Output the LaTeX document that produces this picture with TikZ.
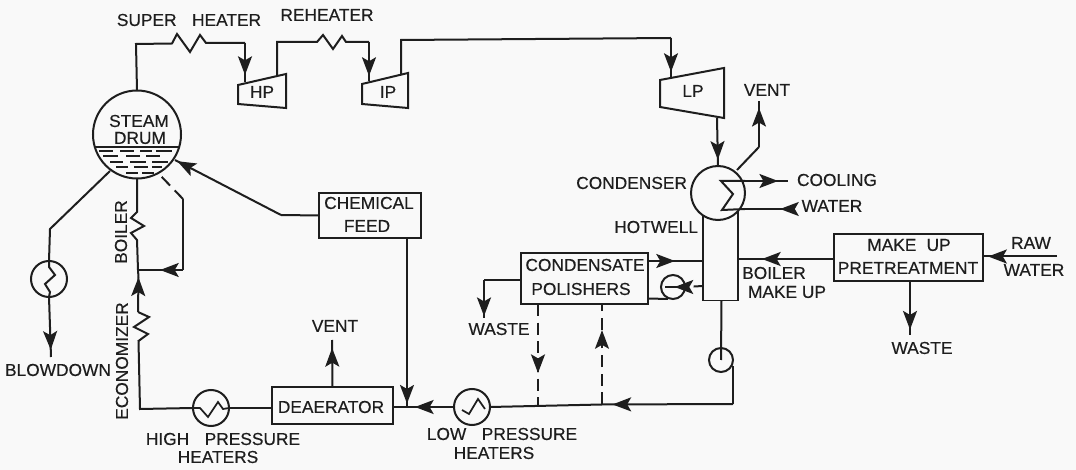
\documentclass[tikz,border=0pt]{standalone}
\usepackage{fontspec}
\setmainfont{Liberation Sans}[RawFeature={embolden=0.35}]
\usetikzlibrary{arrows.meta,decorations.markings}
\definecolor{ink}{HTML}{1E1E1E}
\definecolor{paper}{HTML}{F9F9F9}
\tikzset{
  x=0.75pt,y=-0.75pt,
  pipe/.style={draw=ink,line width=1.5pt,line join=miter},
  dash pipe/.style={draw=ink,line width=1.5pt,dash pattern=on 9pt off 5pt},
  head/.style={postaction={decorate,decoration={markings,mark=at position #1 with {\arrow{Stealth[length=14pt,width=10.5pt,inset=3pt,ink]}}}}},
  inset0/.style={inner sep=0pt,outer sep=0pt},
  tag/.style={inset0,font=\fontsize{13}{15}\selectfont,text=ink,align=center},
  box/.style={draw=ink,line width=1.7pt,inset0,fill=paper,minimum width=#1},
  vessel/.style={draw=ink,line width=1.5pt,circle,inset0,minimum size=#1},
}
\begin{document}
\begin{tikzpicture}
\useasboundingbox (0,0) rectangle (1076,470);
\fill[paper] (0,0) rectangle (1076,470);

% ---- boxes
\node[box=102pt*0.75,minimum height=45pt*0.75] (feed) at (370,215.5) {};
\node[box=121pt*0.75,minimum height=37pt*0.75] (dea) at (332.5,405.5) {};
\node[box=127pt*0.75,minimum height=51pt*0.75] (pol) at (584.5,278.5) {};
\node[box=149pt*0.75,minimum height=47pt*0.75] (mup) at (908.5,257.5) {};
\node[draw=ink,line width=1.2pt,inset0,minimum width=35pt*0.75,minimum height=89pt*0.75] (well) at (720.5,256) {};

% ---- vessels
\node[vessel=88pt*0.75] (drum) at (137,134.5) {};
\node[vessel=54pt*0.75,fill=paper] (cond) at (718,193) {};
\node[vessel=36pt*0.75] (blowhx) at (49,279) {};
\node[vessel=36pt*0.75] (hph) at (211,408) {};
\node[vessel=36pt*0.75] (lph) at (472,407) {};
\node[vessel=24pt*0.75] (pumpa) at (673,287) {};
\node[vessel=24pt*0.75] (pumpb) at (721,360) {};

% ---- turbines
\draw[pipe] (238,85) -- (286,74) -- (286,108) -- (238,104) -- cycle;
\draw[pipe] (362,84) -- (408,73) -- (408,108) -- (362,104) -- cycle;
\draw[pipe] (660,80) -- (724,68) -- (724,118) -- (660,107) -- cycle;
\coordinate (hpin) at (245,82);
\coordinate (hpout) at (277,76);
\coordinate (ipin) at (369,81);
\coordinate (ipout) at (401,75);
\coordinate (lpin) at (671,77);
\coordinate (lpout) at (717,118);

% ---- drum water
\draw[pipe] (drum.center) ++(-42.5,12.5) -- ++(85,0);
\foreach \xa/\xb/\yy in {99/113/151,120/134/151,140/152/151,156/172/151,103/118/156,126/140/156,146/160/156,110/123/162,130/146/162,152/168/162,116/128/167,134/148/167,152/162/167,126/138/173,142/154/173}
  \draw[ink,line width=0.9pt] (\xa,\yy) -- (\xb,\yy);

% ---- steam path
\draw[pipe] (drum.north) -- (136,44) -- (172,43.5) -- (177,34) -- (190,52) -- (200,35) -- (206,43) -- (245,43);
\draw[pipe,head=0.82] (245,43) -- (hpin);
\draw[pipe] (hpout) -- (277,42) -- (317,42) -- (323,35) -- (333,49) -- (342,36) -- (346,42) -- (369,42);
\draw[pipe,head=0.87] (369,42) -- (ipin);
\draw[pipe] (ipout) -- (401,40) -- (671,38);
\draw[pipe,head=0.87] (671,38) -- (lpin);

% ---- condenser
\draw[pipe,head=0.87] (lpout) -- (cond.north);
\coordinate (ventb) at (759,101);
\draw[pipe] (737,170) -- (759,147);
\draw[pipe,head=0.85] (759,147) -- (ventb);
\coordinate (cwout) at (788,181);
\coordinate (cwin) at (790,209);
\draw[pipe,head=0.77] (745,181) -- (cwout);
\draw[pipe] (745,181) -- (721,181) -- (733,194) -- (722,210) -- (745,209);
\draw[pipe,head=0.22] (cwin) -- (745,209);

% ---- hotwell and polishers
\draw[pipe,head=0.49] ([yshift=17.5*0.75pt]pol.east) -- ([yshift=17.5*0.75pt]pol.east -| well.west);
\draw[dash pipe,dash pattern=on 7pt off 4pt] (703,286) -- (pumpa.east);
\draw[pipe] ([yshift=-20*0.75pt]pol.east) -- (668,299);
\draw[pipe,head=0.8] (681,287) -- (pumpa.center);
\draw[pipe] (pumpa.center) -- (665,287);
\draw[pipe] (well.south) ++(1,0) -- (pumpb.center);
\coordinate (pbo) at (733,366);
\coordinate (jb) at (602,404.5);
\coordinate (ja) at (538,405.5);
\draw[pipe] (pbo) -- (733,404);
\draw[pipe,head=0.92] (733,404) -- (jb);
\draw[pipe] (jb) -- (lph.east);

% ---- make-up
\draw[pipe,head=0.75] ([yshift=-1.5*0.75pt]mup.west) -- ([yshift=-1.5*0.75pt]mup.west -| well.east);
\coordinate (rawin) at (1057,256.5);
\draw[pipe,head=0.93] (rawin) -- (mup.east |- rawin);
\coordinate (wasteb) at (910,335);
\draw[pipe,head=0.9] (mup.south -| wasteb) -- (wasteb);
\coordinate (wastea) at (484,318);
\draw[pipe] ([yshift=-1.5*0.75pt]pol.west) -- ++(-37,0) coordinate (wa);
\draw[pipe,head=0.95] (wa) -- (wastea);

% ---- polisher by-pass
\draw[dash pipe,head=0.68] (pol.south -| ja) -- (ja);
\draw[dash pipe,head=0.74] (jb) -- (pol.south -| jb);

% ---- feed train
\draw[pipe,head=0.64] (lph.west) -- (dea.east |- lph.west);
\draw[pipe,head=0.98] (feed.south -| 407,0) -- (407,407);
\draw[pipe] (dea.west |- hph.east) -- (hph.east);
\coordinate (ventc) at (332,340);
\draw[pipe,head=0.83] (dea.north) -- (ventc);
\draw[pipe] (hph.west) -- (140,409) -- (138.5,341) -- (148,334) -- (134,327) -- (149,317) -- (138,312);
\draw[pipe,head=0.99] (138,312) -- (138.5,277);
\draw[pipe] (138.5,277) -- (138,270) -- (137,240) -- (131,233) -- (144,226) -- (131,218) -- (137,212) -- (drum.south);
\coordinate (jr) at (138,270);
\draw[pipe,head=0.51] (183,270) -- (jr);
\draw[pipe] (183,199) -- (183,270);
\draw[dash pipe] (183,199) -- (158,173);
\draw[pipe] (feed.west) -- (281,215);
\draw[pipe,head=0.98] (281,215) -- (175,160);

% ---- blowdown
\draw[pipe] (110,171) -- (50,229) -- (blowhx.north);
\draw[pipe,head=0.88] (blowhx.south) -- (51,357);
\draw[pipe] (blowhx.north) -- (49,267) -- (55,275) -- (45,284) -- (50,292) -- (blowhx.south);

% ---- heater coils
\draw[pipe,line width=1.3pt] (hph.west) -- (200,408) -- (208,417) -- (218,402) -- (223,409) -- (hph.east);
\draw[pipe,line width=1.3pt] (462,410) -- (469,414) -- (478,399) -- (485,409);

% ---- labels
\begin{scope}[every node/.style={tag}]
\node (tsh) at (189,20) {SUPER\hspace{8pt} HEATER};
\node (trh) at (327,15) {REHEATER};
\node (ths) at (139,121) {STEAM};
\node (tdr) at (140,138) {DRUM};
\node (thp) at (262,92) {HP};
\node (tip) at (388,92) {IP};
\node (tlp) at (693,91) {LP};
\node (tv1) at (767,90) {VENT};
\node (tcn) [anchor=east] at (687,183) {CONDENSER};
\node (thw) [anchor=east] at (698,227) {HOTWELL};
\node (tcl) at (837,180) {COOLING};
\node (twa) at (832,206) {WATER};
\node (tbo) at (774,273) {BOILER};
\node (tmk) at (787,292) {MAKE UP};
\node (tm1) at (909,245) {MAKE\hspace{4pt} UP};
\node (tm2) at (908,268) {PRETREATMENT};
\node (trw) at (1031,243) {RAW};
\node (twr) at (1034,270) {WATER};
\node (tw1) at (922,348) {WASTE};
\node (tw2) at (499,329) {WASTE};
\node (tc1) at (585,265) {CONDENSATE};
\node (tc2) at (581,289) {POLISHERS};
\node (tf1) at (369,203) {CHEMICAL};
\node (tf2) at (367,226) {FEED};
\node (tv2) at (335,326) {VENT};
\node (tde) at (331,407) {DEAERATOR};
\node (tb1) at (58,370) {BLOWDOWN};
\node[rotate=90] (teq) at (122,361) {ECONOMIZER};
\node[rotate=90] (tbl) at (121,232) {BOILER};
\node (th1) at (223,439) {HIGH\hspace{8pt} PRESSURE};
\node (th2) at (218,457) {HEATERS};
\node (tl1) at (502,434) {LOW\hspace{8pt} PRESSURE};
\node (tl2) at (494,453) {HEATERS};
\end{scope}
\end{tikzpicture}
\end{document}
